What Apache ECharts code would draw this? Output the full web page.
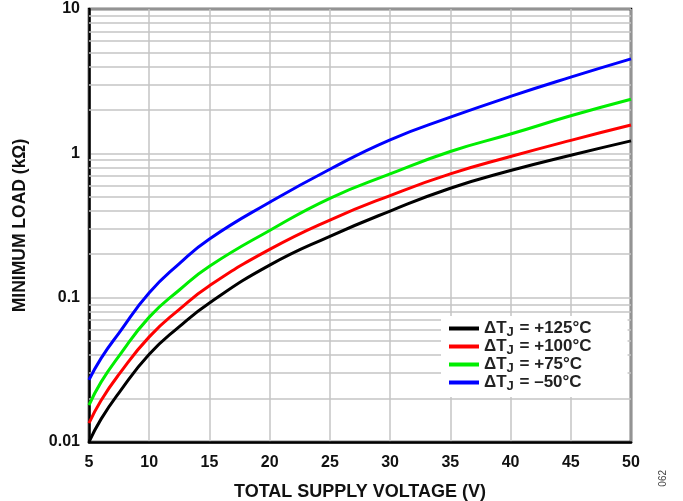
<!DOCTYPE html>
<html>
<head>
<meta charset="utf-8">
<script src="https://cdn.jsdelivr.net/npm/echarts@6/dist/echarts.min.js"></script>
<style>
  html, body { margin: 0; padding: 0; background: #fff; }
  #chart { width: 683px; height: 501px; }
</style>
</head>
<body>
<div id="chart"></div>
<script>
  // total supply voltage (V)
  let voltage = [5, 6, 7.5, 10, 12.5, 15, 20, 25, 30, 35, 40, 45, 50]
  // minimum load (kOhm)
  let load125 = [0.010, 0.0144, 0.022, 0.0405, 0.063, 0.092, 0.168, 0.266, 0.398, 0.573, 0.76, 0.97, 1.22]
  let load100 = [0.0135, 0.0194, 0.0295, 0.0535, 0.083, 0.121, 0.216, 0.345, 0.51, 0.72, 0.95, 1.23, 1.57]
  let load75 = [0.018, 0.026, 0.0395, 0.0733, 0.113, 0.165, 0.292, 0.488, 0.72, 1.03, 1.36, 1.82, 2.37]
  let loadM50 = [0.0269, 0.038, 0.057, 0.108, 0.172, 0.255, 0.458, 0.776, 1.24, 1.78, 2.48, 3.37, 4.51]
  let seriesNames = ['+125', '+100', '+75', '–50']
  let yTicks = [0.01, 0.1, 1, 10]
  // minor log grid lines 2..9 in each decade
  let minorGrid = [0.02, 0.03, 0.04, 0.05, 0.06, 0.07, 0.08, 0.09,
    0.2, 0.3, 0.4, 0.5, 0.6, 0.7, 0.8, 0.9,
    2, 3, 4, 5, 6, 7, 8, 9]

  let pairs = function (ys) {
    return voltage.map(function (v, i) { return [v, ys[i]] })
  }
  let font = 'Liberation Sans, Arial, sans-serif'

  let chart = echarts.init(document.getElementById('chart'))
  let mkSeries = function (name, data, color, withGrid) {
    let s = {
      name: name,
      type: 'line',
      data: pairs(data),
      smooth: 0.5,
      showSymbol: false,
      lineStyle: { color: color, width: 3 },
      itemStyle: { color: color },
      z: 10
    }
    if (withGrid) {
      s.markLine = {
        silent: true,
        symbol: 'none',
        label: { show: false },
        lineStyle: { color: '#c4c4c4', width: 1.5, type: 'solid' },
        data: minorGrid.map(function (v) { return { yAxis: v } }),
        z: 1
      }
    }
    return s
  }

  chart.setOption({
    animation: false,
    grid: {
      left: 89, right: 52, top: 9, bottom: 59,
      outerBoundsMode: 'none',
      containLabel: false,
      show: true,
      borderColor: '#000',
      borderWidth: 2.5
    },
    legend: {
      orient: 'vertical',
      left: 441,
      top: 316,
      padding: [2, 36, 4, 8],
      itemGap: -3,
      itemWidth: 30,
      itemHeight: 4,
      backgroundColor: '#fff',
      icon: 'rect',
      data: seriesNames,
      formatter: function (name) {
        return '{a|ΔT}{s|J}{a| = ' + name + '°C}'
      },
      textStyle: {
        fontFamily: font,
        fontWeight: 'bold',
        fontSize: 17,
        color: '#222',
        rich: {
          a: { fontFamily: font, fontWeight: 'bold', fontSize: 17, color: '#222', lineHeight: 18.5 },
          s: { fontFamily: font, fontWeight: 'bold', fontSize: 13, color: '#222', padding: [8, 1, 0, 0], lineHeight: 10 }
        }
      }
    },
    xAxis: {
      type: 'value',
      min: 5,
      max: 50,
      interval: 5,
      name: 'TOTAL SUPPLY VOLTAGE (V)',
      nameLocation: 'middle',
      nameGap: 41,
      nameTextStyle: { fontFamily: font, fontWeight: 'bold', fontSize: 18, color: '#111' },
      axisLine: { lineStyle: { color: '#000', width: 2.5 } },
      axisTick: { show: false },
      axisLabel: { fontFamily: font, fontWeight: 'bold', fontSize: 16, color: '#111', margin: 13 },
      splitLine: { lineStyle: { color: '#c4c4c4', width: 1.5 } }
    },
    yAxis: {
      type: 'log',
      logBase: 10,
      min: 0.01,
      max: 10,
      name: 'MINIMUM LOAD (kΩ)',
      nameLocation: 'middle',
      nameGap: 60,
      nameTextStyle: { fontFamily: font, fontWeight: 'bold', fontSize: 17.5, color: '#111' },
      axisLine: { lineStyle: { color: '#000', width: 2.5 } },
      axisTick: { show: false },
      axisLabel: {
        fontFamily: font, fontWeight: 'bold', fontSize: 16, color: '#111', margin: 9,
        formatter: function (v) {
          let hit = yTicks.find(function (t) { return Math.abs(t - v) / t < 1e-6 })
          return hit !== undefined ? String(hit) : ''
        }
      },
      splitLine: { lineStyle: { color: '#c4c4c4', width: 1.5 } }
    },
    graphic: [{
      type: 'text',
      left: 658,
      top: 470,
      rotation: Math.PI / 2,
      style: { text: '062', fontFamily: font, fontSize: 10, fill: '#444' }
    }],
    series: [
      mkSeries(seriesNames[0], load125, '#000000', true),
      mkSeries(seriesNames[1], load100, '#ff0000', false),
      mkSeries(seriesNames[2], load75, '#00ee00', false),
      mkSeries(seriesNames[3], loadM50, '#0000ff', false)
    ]
  })
</script>
</body>
</html>
